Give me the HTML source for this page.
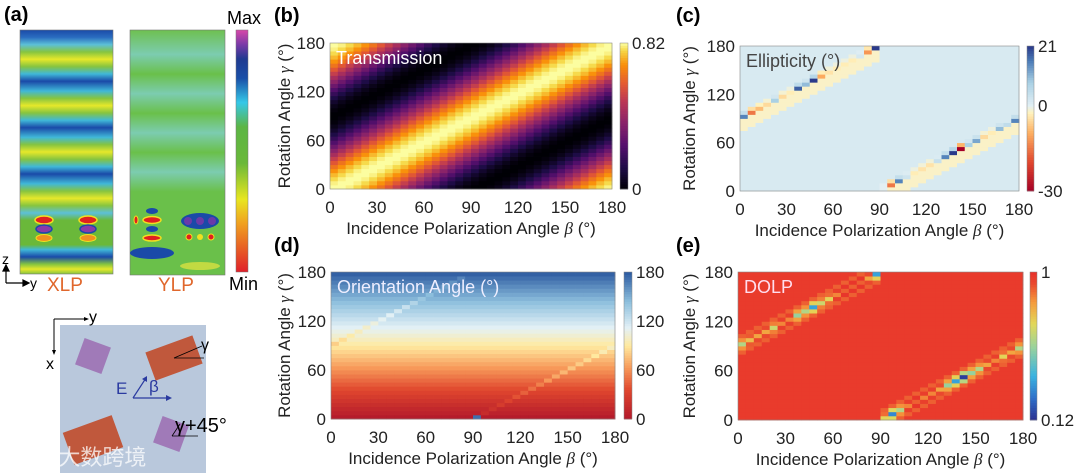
<!DOCTYPE html>
<html><head><meta charset="utf-8"><style>
html,body{margin:0;padding:0;background:#fff;}
svg{display:block;font-family:"Liberation Sans","Noto Sans CJK SC",sans-serif;}
</style></head><body>
<svg id="fig" width="1080" height="473" viewBox="0 0 1080 473">
<defs>
<linearGradient id="cbA" x1="0" y1="1" x2="0" y2="0">
<stop offset="0" stop-color="#e0202a"/><stop offset="0.2" stop-color="#f0a020"/><stop offset="0.3" stop-color="#e8e620"/><stop offset="0.45" stop-color="#6ab83a"/><stop offset="0.6" stop-color="#5cb545"/><stop offset="0.7" stop-color="#35c8e8"/><stop offset="0.8" stop-color="#1a4fa8"/><stop offset="0.88" stop-color="#203a90"/><stop offset="0.94" stop-color="#7a3aa8"/><stop offset="1" stop-color="#d848a8"/>
</linearGradient>
<linearGradient id="xlp" x1="0" y1="0" x2="0" y2="1">
<stop offset="0" stop-color="#1a4aa8"/><stop offset="0.03" stop-color="#2a6cc0"/><stop offset="0.06" stop-color="#5cc0d8"/><stop offset="0.09" stop-color="#86c440"/><stop offset="0.12" stop-color="#e6e82a"/><stop offset="0.15" stop-color="#86c440"/><stop offset="0.18" stop-color="#40b8d8"/><stop offset="0.21" stop-color="#1a4aa8"/><stop offset="0.25" stop-color="#40b8d8"/><stop offset="0.28" stop-color="#86c440"/><stop offset="0.31" stop-color="#e6e82a"/><stop offset="0.34" stop-color="#86c440"/><stop offset="0.37" stop-color="#40b8d8"/><stop offset="0.4" stop-color="#1a4aa8"/><stop offset="0.44" stop-color="#40b8d8"/><stop offset="0.47" stop-color="#86c440"/><stop offset="0.5" stop-color="#e6e82a"/><stop offset="0.53" stop-color="#86c440"/><stop offset="0.56" stop-color="#40b8d8"/><stop offset="0.59" stop-color="#1a4aa8"/><stop offset="0.63" stop-color="#40b8d8"/><stop offset="0.66" stop-color="#86c440"/><stop offset="0.69" stop-color="#e6e82a"/><stop offset="0.72" stop-color="#86c440"/><stop offset="0.75" stop-color="#5cc0d8"/><stop offset="0.78" stop-color="#6ab83a"/><stop offset="0.88" stop-color="#6ab83a"/><stop offset="0.9" stop-color="#40b8d8"/><stop offset="0.93" stop-color="#1a4aa8"/><stop offset="0.96" stop-color="#86c440"/><stop offset="0.98" stop-color="#e6e82a"/><stop offset="1" stop-color="#86c440"/>
</linearGradient>
<linearGradient id="ylp" x1="0" y1="0" x2="0" y2="1">
<stop offset="0" stop-color="#6ec050"/><stop offset="0.1" stop-color="#7cccb0"/><stop offset="0.18" stop-color="#6ac04a"/><stop offset="0.26" stop-color="#7cccb0"/><stop offset="0.34" stop-color="#6ac04a"/><stop offset="0.42" stop-color="#7cccb0"/><stop offset="0.5" stop-color="#6ac04a"/><stop offset="0.58" stop-color="#7cccb0"/><stop offset="0.66" stop-color="#6ac04a"/><stop offset="1" stop-color="#6ac04a"/>
</linearGradient>
</defs>

<g>
<text x="4" y="21" font-size="20" font-weight="bold">(a)</text>
<rect x="20" y="30" width="93" height="244" fill="url(#xlp)" stroke="#777" stroke-width="0.6"/>
<g>
<ellipse cx="44" cy="220" rx="9" ry="4" fill="#e02020" stroke="#f0e020" stroke-width="1.5"/>
<ellipse cx="44" cy="229" rx="8" ry="4" fill="#8a3aa8" stroke="#1a4aa8" stroke-width="1.5"/>
<ellipse cx="44" cy="238" rx="8" ry="3.5" fill="#f09020" stroke="#f0e020" stroke-width="1"/>
<ellipse cx="88" cy="220" rx="9" ry="4" fill="#e02020" stroke="#f0e020" stroke-width="1.5"/>
<ellipse cx="88" cy="229" rx="8" ry="4" fill="#8a3aa8" stroke="#1a4aa8" stroke-width="1.5"/>
<ellipse cx="88" cy="238" rx="8" ry="3.5" fill="#f09020" stroke="#f0e020" stroke-width="1"/>
</g>
<rect x="130" y="30" width="95" height="245" fill="url(#ylp)" stroke="#777" stroke-width="0.6"/>
<g>
<ellipse cx="152" cy="211" rx="6" ry="3" fill="#1a4aa8"/>
<ellipse cx="152" cy="220" rx="9" ry="3.5" fill="#e02020" stroke="#f0e020" stroke-width="1.5"/>
<ellipse cx="152" cy="229" rx="6" ry="3" fill="#1a4aa8"/>
<ellipse cx="152" cy="238" rx="9" ry="3" fill="#e02020" stroke="#f0e020" stroke-width="1.5"/>
<ellipse cx="136" cy="220" rx="2" ry="4" fill="#e02020" stroke="#f0e020" stroke-width="1"/>
<ellipse cx="200" cy="221" rx="19" ry="8" fill="#1a4aa8"/>
<circle cx="188" cy="221" r="4" fill="#6a3aa8"/><circle cx="200" cy="221" r="4" fill="#6a3aa8"/><circle cx="212" cy="221" r="4" fill="#6a3aa8"/>
<circle cx="189" cy="237" r="3" fill="#e02020" stroke="#f0e020"/><circle cx="200" cy="237" r="3" fill="#f0e020"/><circle cx="211" cy="237" r="3" fill="#e02020" stroke="#f0e020"/>
<ellipse cx="152" cy="253" rx="22" ry="6" fill="#1a4aa8"/>
<ellipse cx="200" cy="266" rx="20" ry="4" fill="#d8e040" opacity="0.8"/>
</g>
<rect x="236" y="30" width="12" height="242" fill="url(#cbA)" stroke="#777" stroke-width="0.5"/>
<text x="227" y="24" font-size="18">Max</text>
<text x="229" y="290" font-size="18">Min</text>
<g stroke="#000" stroke-width="1.2" fill="none">
<line x1="6" y1="283" x2="6" y2="268"/><line x1="6" y1="283" x2="26" y2="283"/>
<path d="M3,271 L6,265 L9,271Z M23,280 L29,283 L23,286Z" fill="#000"/>
</g>
<text x="2" y="264" font-size="14">z</text>
<text x="30" y="288" font-size="14">y</text>
<text x="47" y="291" font-size="19" fill="#e0672c">XLP</text>
<text x="158" y="291" font-size="19" fill="#e0672c">YLP</text>

<g>
<rect x="60" y="325" width="146" height="148" fill="#b9c8dc"/>
<rect x="79" y="342" width="28" height="28" fill="#a07ab8" transform="rotate(20 93 356)"/>
<rect x="157" y="420" width="28" height="28" fill="#a07ab8" transform="rotate(20 171 434)"/>
<rect x="149" y="343" width="50" height="30" fill="#c0583c" transform="rotate(-20 174 358)"/>
<rect x="67" y="423" width="52" height="34" fill="#c0583c" transform="rotate(-20 93 440)"/>
<g stroke="#000" stroke-width="0.8" fill="none"><line x1="174" y1="358" x2="204" y2="358"/><line x1="174" y1="358" x2="202" y2="346"/><line x1="172" y1="436" x2="198" y2="436"/><line x1="172" y1="436" x2="180" y2="424"/></g>
<text x="201" y="350" font-size="16">γ</text>
<text x="175" y="432" font-size="20">γ+45°</text>
<g stroke="#2a3aa0" stroke-width="1.2" fill="none"><line x1="133" y1="398" x2="170" y2="398"/><line x1="133" y1="398" x2="146" y2="378"/></g>
<path d="M166,395 L172,398 L166,401Z M142,379 L147,376 L147,382Z" fill="#2a3aa0"/>
<text x="116" y="394" font-size="17" fill="#2a3aa0">E</text>
<text x="149" y="392" font-size="17" fill="#2a3aa0">β</text>
<g stroke="#000" stroke-width="1" fill="none"><line x1="54" y1="319" x2="86" y2="319"/><line x1="54" y1="319" x2="54" y2="352"/></g>
<path d="M84,317 L89,319 L84,321Z M52,350 L54,355 L56,350Z" fill="#000"/>
<text x="89" y="322" font-size="16">y</text>
<text x="46" y="369" font-size="16">x</text>
<text x="14" y="465" font-size="22" fill="#fff" opacity="0.75">ⓚ℗ 大数跨境</text>
</g>
</g>
<g id="charts"></g>
</svg>
<script>
// ---- data ----
const angleTicks = [0, 30, 60, 90, 120, 150, 180];
// ridge (defect) row index per β column (β = 0..175 step 5)
const ridgeRows = [18,19,20,21,22,23,24,25,26,27,28,29,30,31,32,33,34,35,0,1,2,3,4,5,6,7,8,9,10,11,12,13,14,15,16,17];
// transmission bright-band centre γ for each β column
const transRidgeDeg = [0,5,10,15,20,25,30,35,40,45,50,55,60,65,70,75,80,85,90,95,100,105,110,115,120,125,130,135,140,145,150,155,160,165,170,175];
const transPeak = 0.82;
const ellipBase = 1.5;
const ellipNearRidge = -2;
const ellipRidge = [15,-15,-8,-5,8,-5,-3,18,10,21,-10,-4,-3,-3,-3,2,-12,21,0,-15,15,3,-3,-4,-4,4,15,21,-30,8,12,-5,-3,10,5,15];
const orientRidgeOffset = [-12,-12,-10,-10,-12,-12,-12,-15,-15,-15,-12,-8,-8,-8,-8,-8,-8,0,170,8,8,10,10,12,12,12,12,15,15,15,15,12,12,12,12,10];
const dolpBase = 0.97;
const dolpRidge = [0.6,0.75,0.8,0.8,0.65,0.85,0.85,0.55,0.6,0.35,0.65,0.7,0.85,0.9,0.9,0.9,0.8,0.35,0.7,0.3,0.6,0.85,0.9,0.85,0.85,0.8,0.55,0.35,0.15,0.55,0.6,0.8,0.85,0.7,0.8,0.6];

const NS='http://www.w3.org/2000/svg';
const root=document.getElementById('charts');
function mk(tag,attrs,parent){const e=document.createElementNS(NS,tag);for(const k in attrs)e.setAttribute(k,attrs[k]);(parent||root).appendChild(e);return e;}
function hex(h){return [parseInt(h.slice(1,3),16),parseInt(h.slice(3,5),16),parseInt(h.slice(5,7),16)];}
function cmap(stops){const s=stops.map(x=>[x[0],hex(x[1])]);return t=>{t=Math.max(0,Math.min(1,t));for(let i=1;i<s.length;i++){if(t<=s[i][0]){const a=s[i-1],b=s[i];const f=(t-a[0])/(b[0]-a[0]||1);const c=a[1].map((v,k)=>Math.round(v+(b[1][k]-v)*f));return `rgb(${c[0]},${c[1]},${c[2]})`;}}const c=s[s.length-1][1];return `rgb(${c[0]},${c[1]},${c[2]})`;};}
const inferno=cmap([[0,'#000004'],[0.15,'#1f0c48'],[0.3,'#550f6d'],[0.45,'#88226a'],[0.6,'#ba3655'],[0.72,'#e35933'],[0.85,'#f98e09'],[0.95,'#f6d746'],[1,'#fcffa4']]);
const rdylbu=cmap([[0,'#a50026'],[0.2,'#e0472e'],[0.4,'#fdae61'],[0.54,'#fff2bd'],[0.59,'#e2eff4'],[0.75,'#a9d0e4'],[0.9,'#4a7ab6'],[1,'#2a3a8a']]);
const orient=cmap([[0,'#b2182b'],[0.2,'#e0472e'],[0.35,'#f79a5a'],[0.5,'#ffeaa0'],[0.62,'#e4f1f6'],[0.8,'#8dbfdd'],[1,'#2c5aa0']]);
const jet=cmap([[0,'#2b2f8f'],[0.15,'#2f70c9'],[0.3,'#3ab3e0'],[0.5,'#9cd39a'],[0.65,'#e2d85a'],[0.8,'#f59a3c'],[0.92,'#ea4a2e'],[1,'#e8302a']]);

function panel(o){
  const g=mk('g',{});
  
  
  const nC=ridgeRows.length,nR=36;
  const cw=o.w/nC,ch=o.h/nR;
  const xs=b=>o.x+b/180*o.w, ys=v=>o.y+o.h-v/180*o.h;
  for(let i=0;i<nC;i++)for(let j=0;j<nR;j++){
    const v=o.val(i,j);
    const r=mk('rect',{x:(o.x+i*cw).toFixed(2),y:(o.y+o.h-(j+1)*ch).toFixed(2),width:(cw+0.4).toFixed(2),height:(ch+0.4).toFixed(2),fill:o.cm((v-o.vmin)/(o.vmax-o.vmin))},g);
    
    
  }
  mk('rect',{x:o.x,y:o.y,width:o.w,height:o.h,fill:'none',stroke:'#888','stroke-width':0.6},g);
  angleTicks.forEach(t=>{
    const tx=mk('text',{x:xs(t),y:o.y+o.h+24,'font-size':17,'text-anchor':'middle',fill:'#222'},g);tx.textContent=t;
    
    
    if(t%60===0){const ty=mk('text',{x:o.x-5,y:ys(t)+6,'font-size':17,'text-anchor':'end',fill:'#222'},g);ty.textContent=t;
    
    }
  });
  const xl=mk('text',{x:o.x+o.w/2,y:o.y+o.h+45,'font-size':17,'text-anchor':'middle',fill:'#222'},g);
  xl.innerHTML='Incidence Polarization Angle <tspan font-style="italic" font-family="Liberation Serif">β</tspan> (°)';
  
  
  const yl=mk('text',{x:0,y:0,'font-size':17,'text-anchor':'middle',fill:'#222',transform:`translate(${o.ylx},${o.y+o.h/2}) rotate(-90)`},g);
  yl.innerHTML='Rotation Angle <tspan font-style="italic" font-family="Liberation Serif">γ</tspan> (°)';
  
  
  const tt=mk('text',{x:o.x+6,y:o.y+21,'font-size':18,fill:o.tcol},g);tt.textContent=o.title;
  
  
  const pl=mk('text',{x:o.plx,y:o.ply,'font-size':20,'font-weight':'bold'},g);pl.textContent=o.label;
  
  
  const n=60;
  for(let k=0;k<n;k++){const r=mk('rect',{x:o.cbx,y:(o.y+o.h-(k+1)*o.h/n).toFixed(2),width:o.cbw,height:(o.h/n+0.4).toFixed(2),fill:o.cm((k+0.5)/n)},g);
    
    }
  mk('rect',{x:o.cbx,y:o.y,width:o.cbw,height:o.h,fill:'none',stroke:'#888','stroke-width':0.5},g);
  o.cbt.forEach(t=>{const e=mk('text',{x:o.cbx+o.cbw+4,y:o.y+o.h-(t-o.vmin)/(o.vmax-o.vmin)*o.h+6,'font-size':17,fill:'#222'},g);e.textContent=t;
    
    });
}
function ridgeDist(i,j){return j-ridgeRows[i];}

panel({name:'transmission-heatmap',label:'(b)',plx:274,ply:22,x:330,y:43,w:282,h:146,ylx:290,cbx:620,cbw:8,vmin:0,vmax:0.82,cbt:[0,0.82],title:'Transmission',tcol:'#fff',cm:inferno,
  val:(i,j)=>{const g=(j+0.5)*5, d=(g-transRidgeDeg[i])*Math.PI/180;return transPeak*Math.cos(d)**2;}});
panel({name:'ellipticity-heatmap',label:'(c)',plx:676,ply:22,x:740,y:46,w:279,h:145,ylx:695,cbx:1027,cbw:7,vmin:-30,vmax:21,cbt:[-30,0,21],title:'Ellipticity (°)',tcol:'#444',cm:rdylbu,
  val:(i,j)=>{const d=ridgeDist(i,j);if(d===0)return ellipRidge[i];if(d===1)return ellipRidge[i]*0.3;if(d<0&&d>=-3)return ellipNearRidge;return ellipBase;}});
panel({name:'orientation-heatmap',label:'(d)',plx:274,ply:252,x:331,y:272,w:284,h:147,ylx:290,cbx:624,cbw:8,vmin:0,vmax:180,cbt:[0,60,120,180],title:'Orientation Angle (°)',tcol:'#eef',cm:orient,
  val:(i,j)=>{const g=(j+0.5)*5;const d=ridgeDist(i,j);if(d===0)return Math.min(180,g+orientRidgeOffset[i]);return g;}});
panel({name:'dolp-heatmap',label:'(e)',plx:676,ply:252,x:738,y:272,w:285,h:148,ylx:695,cbx:1030,cbw:7,vmin:0.12,vmax:1,cbt:[0.12,1],title:'DOLP',tcol:'#fde',cm:jet,
  val:(i,j)=>{const d=ridgeDist(i,j);if(d===0)return dolpRidge[i];if(Math.abs(d)===1)return (dolpRidge[i]+dolpBase)/2+0.05;if(Math.abs(d)===2)return 0.9;return dolpBase;}});
</script>
</body></html>
